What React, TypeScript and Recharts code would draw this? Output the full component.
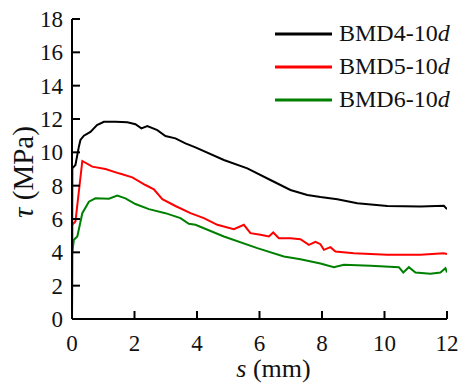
import { LineChart, Line, XAxis, YAxis, Label } from "recharts";

// s (mm) / tau (MPa)
const sBMD4 = [0, 0.01, 0.11, 0.22, 0.27, 0.38, 0.59, 0.8, 1.02, 1.39, 1.77, 2.03, 2.22, 2.41, 2.73, 2.99, 3.31, 3.63, 3.95, 4.86, 5.61, 6.35, 6.99, 7.53, 7.95, 8.49, 9.13, 10.09, 11.15, 11.9, 12];
const tauBMD4 = [0, 9.04, 9.24, 10.34, 10.74, 11.0, 11.23, 11.63, 11.83, 11.83, 11.81, 11.69, 11.44, 11.57, 11.33, 10.98, 10.84, 10.54, 10.3, 9.54, 9.04, 8.34, 7.74, 7.44, 7.32, 7.19, 6.95, 6.78, 6.75, 6.79, 6.59];

const sBMD5 = [0, 0.005, 0.11, 0.33, 0.65, 1.07, 1.5, 1.93, 2.35, 2.62, 2.89, 3.31, 3.79, 4.22, 4.65, 5.18, 5.5, 5.71, 6.03, 6.3, 6.44, 6.62, 6.99, 7.31, 7.58, 7.79, 7.95, 8.06, 8.27, 8.43, 9.02, 10.09, 11.15, 11.9, 12];
const tauBMD5 = [0, 5.65, 5.85, 9.48, 9.14, 9.0, 8.74, 8.5, 8.04, 7.78, 7.19, 6.78, 6.35, 6.05, 5.65, 5.39, 5.65, 5.15, 5.05, 4.95, 5.19, 4.85, 4.85, 4.79, 4.45, 4.63, 4.49, 4.15, 4.31, 4.05, 3.95, 3.85, 3.85, 3.95, 3.9];

const sBMD6 = [0, 0.005, 0.06, 0.17, 0.33, 0.54, 0.75, 1.18, 1.45, 1.71, 2.03, 2.46, 2.99, 3.47, 3.74, 3.95, 4.86, 5.93, 6.78, 7.31, 7.95, 8.38, 8.7, 9.55, 10.46, 10.6, 10.78, 10.99, 11.47, 11.79, 11.95, 12];
const tauBMD6 = [0.15, 3.95, 4.75, 4.95, 6.35, 7.04, 7.24, 7.22, 7.4, 7.24, 6.9, 6.59, 6.35, 6.05, 5.71, 5.65, 4.95, 4.25, 3.75, 3.59, 3.33, 3.11, 3.25, 3.19, 3.11, 2.79, 3.11, 2.79, 2.71, 2.79, 3.05, 2.79];

const seriesNames = ["BMD4-10d", "BMD5-10d", "BMD6-10d"];
const seriesColors = ["#000000", "#ff0000", "#008000"];

const xTicks = [0, 2, 4, 6, 8, 10, 12];
const yTicks = [0, 2, 4, 6, 8, 10, 12, 14, 16, 18];

const FONT = '"Liberation Serif", "Times New Roman", serif';

const zip = (s: number[], t: number[]) => s.map((v, i) => ({ s: v, tau: t[i] }));
const series = [zip(sBMD4, tauBMD4), zip(sBMD5, tauBMD5), zip(sBMD6, tauBMD6)];

const YTick = (props: any) => {
  const { x, y, payload } = props;
  return (
    <g>
      <line x1={x + 9} x2={x + 17} y1={y} y2={y} stroke="#000" strokeWidth={2} />
      <text x={x} y={y + 8} textAnchor="end" fontSize={23} fontFamily={FONT} fill="#111">
        {payload.value}
      </text>
    </g>
  );
};

const XTick = (props: any) => {
  const { x, y, payload } = props;
  return (
    <g>
      <line x1={x} x2={x} y1={y} y2={y - 8} stroke="#000" strokeWidth={2} />
      <text x={x} y={y + 32} textAnchor="middle" fontSize={23} fontFamily={FONT} fill="#111">
        {payload.value}
      </text>
    </g>
  );
};

// "BMD4-10d" -> trailing d in italics
const legendLabel = (name: string) => (
  <>
    {name.slice(0, -1)}
    <i>{name.slice(-1)}</i>
  </>
);

export default function App() {
  return (
    <div style={{ position: "absolute", left: 0, top: 0, width: 460, height: 385, background: "#fff" }}>
      <LineChart width={460} height={385} margin={{ top: 19, right: 13, bottom: 31, left: 10 }}>
        <XAxis
          type="number"
          dataKey="s"
          domain={[0, 12]}
          ticks={xTicks}
          allowDataOverflow
          axisLine={{ stroke: "#000", strokeWidth: 2 }}
          tickLine={false}
          tickSize={0}
          tickMargin={0}
          tick={<XTick />}
          height={35}
        >
          <Label
            content={({ viewBox }: any) => (
              <text
                x={viewBox.x + viewBox.width / 2 + 14}
                y={viewBox.y + 58}
                textAnchor="middle"
                fontSize={26}
                fontFamily={FONT}
                fill="#111"
              >
                <tspan fontStyle="italic">s</tspan> (mm)
              </text>
            )}
          />
        </XAxis>
        <YAxis
          type="number"
          domain={[0, 18]}
          ticks={yTicks}
          allowDataOverflow
          axisLine={{ stroke: "#000", strokeWidth: 2 }}
          tickLine={false}
          tickSize={0}
          tickMargin={9}
          tick={<YTick />}
          width={62}
        >
          <Label
            content={({ viewBox }: any) => {
              const cx = viewBox.x + 23;
              const cy = viewBox.y + viewBox.height / 2 + 3;
              return (
                <text
                  transform={`translate(${cx},${cy}) rotate(-90)`}
                  textAnchor="middle"
                  fontSize={29}
                  fontFamily={FONT}
                  fill="#111"
                >
                  <tspan fontStyle="italic">τ</tspan> (MPa)
                </text>
              );
            }}
          />
        </YAxis>
        {series.map((d, i) => (
          <Line
            key={seriesNames[i]}
            data={d}
            dataKey="tau"
            name={seriesNames[i]}
            stroke={seriesColors[i]}
            strokeWidth={2}
            dot={false}
            type="linear"
            isAnimationActive={false}
          />
        ))}
      </LineChart>

      {/* legend, top right */}
      <div style={{ position: "absolute", left: 275, top: 17, fontFamily: FONT, fontSize: 24, color: "#111" }}>
        {seriesNames.map((n, i) => (
          <div key={n} style={{ display: "flex", alignItems: "center", height: 33 }}>
            <svg width={57} height={6} style={{ marginRight: 7 }}>
              <line x1={0} x2={57} y1={3} y2={3} stroke={seriesColors[i]} strokeWidth={3} />
            </svg>
            <span style={{ lineHeight: "33px", whiteSpace: "nowrap" }}>{legendLabel(n)}</span>
          </div>
        ))}
      </div>
    </div>
  );
}
